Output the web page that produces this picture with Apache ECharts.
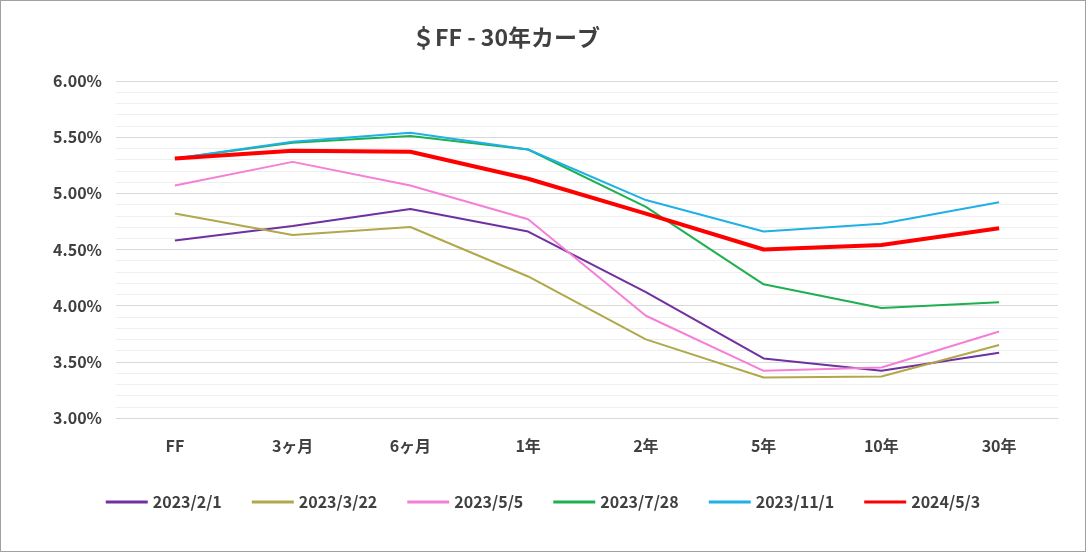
<!doctype html>
<html>
<head>
<meta charset="utf-8">
<script src="https://cdn.jsdelivr.net/npm/echarts@6/dist/echarts.min.js"></script>
<style>
html,body{margin:0;padding:0;background:#fff;}
#main{width:1084px;height:550px;border:1px solid #a0a0a0;}
</style>
</head>
<body>
<div id="main"></div>
<script>
var categories = ['FF', '3ヶ月', '6ヶ月', '1年', '2年', '5年', '10年', '30年'];
var names = ['2023/2/1', '2023/3/22', '2023/5/5', '2023/7/28', '2023/11/1', '2024/5/3'];
var colors = ['#7030a0', '#b0a84a', '#f57fd6', '#1eb050', '#1fb0e6', '#ff0000'];
var d20230201 = [4.58, 4.71, 4.86, 4.66, 4.12, 3.53, 3.42, 3.58];
var d20230322 = [4.82, 4.63, 4.70, 4.26, 3.70, 3.36, 3.37, 3.65];
var d20230505 = [5.07, 5.28, 5.07, 4.77, 3.91, 3.42, 3.45, 3.77];
var d20230728 = [5.31, 5.45, 5.51, 5.39, 4.88, 4.19, 3.98, 4.03];
var d20231101 = [5.31, 5.46, 5.54, 5.39, 4.94, 4.66, 4.73, 4.92];
var d20240503 = [5.31, 5.38, 5.37, 5.13, 4.82, 4.50, 4.54, 4.69];
var allData = [d20230201, d20230322, d20230505, d20230728, d20231101, d20240503];

var font = '"Noto Sans CJK JP", sans-serif';
var chart = echarts.init(document.getElementById('main'));
chart.setOption({
  title: {text: '＄FF - 30年カーブ', left: 500, top: 20, textAlign: 'center',
    textStyle: {fontFamily: font, fontSize: 23, fontWeight: 'bold', color: '#404040'}},
  legend: {bottom: 36, itemWidth: 42, itemHeight: 3, itemGap: 30, icon: 'rect',
    textStyle: {fontFamily: font, fontSize: 16, fontWeight: 'bold', color: '#404040'}, data: names},
  grid: {left: 115, right: 27, top: 80, bottom: 133},
  xAxis: {type: 'category', data: categories,
    axisLine: {lineStyle: {color: '#d9d9d9'}}, axisTick: {show: false},
    axisLabel: {fontFamily: font, fontSize: 16, fontWeight: 'bold', color: '#404040', margin: 20}},
  yAxis: {type: 'value', min: 3, max: 6, interval: 0.5,
    axisLabel: {fontFamily: font, fontSize: 16, fontWeight: 'bold', color: '#404040', margin: 14,
      formatter: function (v) { return v.toFixed(2) + '%'; }},
    splitLine: {lineStyle: {color: '#d9d9d9'}},
    minorTick: {show: false, splitNumber: 5},
    minorSplitLine: {show: true, lineStyle: {color: '#efefef'}}},
  series: names.map(function (n, i) {
    return {name: n, type: 'line', data: allData[i], symbol: 'none',
      color: colors[i], lineStyle: {width: i === 5 ? 4 : 2}};
  })
});
</script>
</body>
</html>
